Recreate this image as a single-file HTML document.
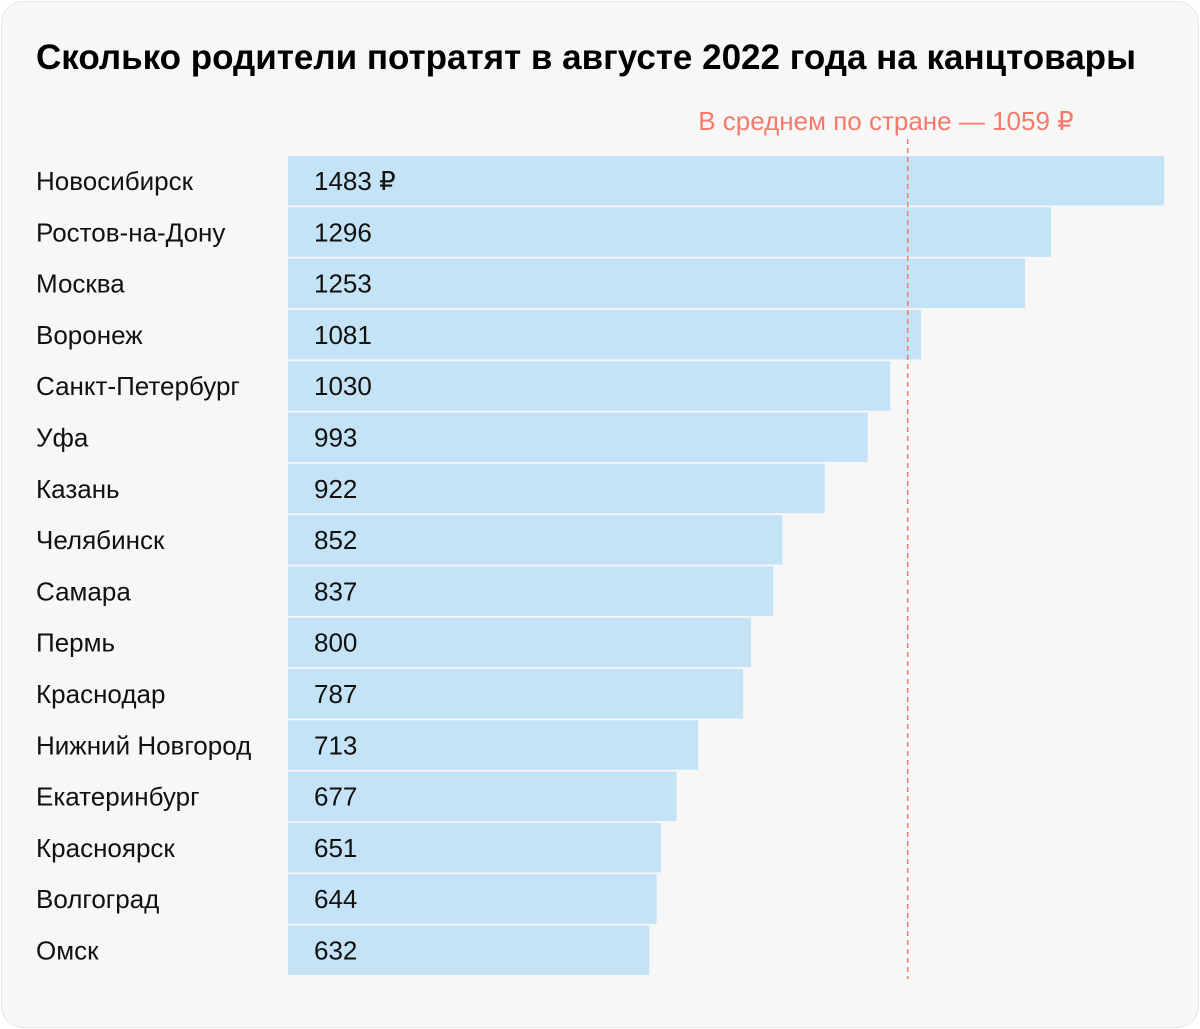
<!DOCTYPE html>
<html><head><meta charset="utf-8"><style>
html,body{margin:0;padding:0;background:#fff}
#card{position:absolute;left:1px;top:1px;width:1196px;height:1025px;background:#f7f7f7;border:1px solid #e6e6e6;border-radius:22px;overflow:hidden}
svg text{font-family:"Liberation Sans","Noto Sans CJK SC",sans-serif}
</style></head><body>
<div id="card">
<svg id="chart" width="1196" height="1025">
<text x="34" y="67" font-size="35" font-weight="bold" fill="#000">Сколько родители потратят в августе 2022 года на канцтовары</text>
</svg>
</div>
<script>
const cities=["Новосибирск","Ростов-на-Дону","Москва","Воронеж","Санкт-Петербург","Уфа","Казань","Челябинск","Самара","Пермь","Краснодар","Нижний Новгород","Екатеринбург","Красноярск","Волгоград","Омск"];
const values=[1483,1296,1253,1081,1030,993,922,852,837,800,787,713,677,651,644,632];
const avgValue=1059;
const svg=document.getElementById('chart');
const NS='http://www.w3.org/2000/svg';
const barLeft=286;
function x(v){return 265+0.605*v;}
function y(i){return 154+i*51.3;}
function mk(t,a){const e=document.createElementNS(NS,t);for(const k in a)e.setAttribute(k,a[k]);svg.appendChild(e);return e;}
values.forEach((v,i)=>{
  const r=mk('rect',{x:barLeft,y:y(i),width:x(v)-barLeft,height:49.5,fill:'#c5e3f7'});
  
  
  const l=mk('text',{x:34,y:y(i)+34,'font-size':26,fill:'#111'});
  l.textContent=cities[i];
  
  
  const t=mk('text',{x:312,y:y(i)+34,'font-size':26,fill:'#111'});
  t.textContent=v+(i===0?' ₽':'');
  
  
});
const ax=x(avgValue);
const ln=mk('line',{x1:ax,x2:ax,y1:137,y2:977,stroke:'#f47a6a','stroke-width':1.5,'stroke-dasharray':'5,4'});


const at=mk('text',{x:ax+166,y:128,'font-size':26,fill:'#f47a6a','text-anchor':'end'});
at.textContent='В среднем по стране — '+avgValue+' ₽';


</script>
</body></html>
